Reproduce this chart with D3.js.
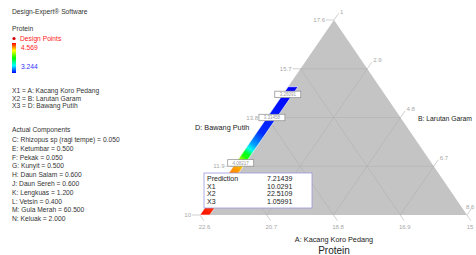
<!DOCTYPE html>
<html>
<head>
<meta charset="utf-8">
<script src="https://cdn.jsdelivr.net/npm/d3@7"></script>
<style>
body { margin: 0; background: #fff; }
svg { display: block; font-family: "Liberation Sans", Arial, sans-serif; }
</style>
</head>
<body>
<svg id="chart" width="476" height="255"></svg>
<script>
// ternary plot, mixture total A + B + D = 33.6
var total = 33.6;

var leftTicks = [10, 11.9, 13.8, 15.7, 17.6];      // A on the left edge
var leftTickLabels = ["10", "11.9", "13.8", "15.7", "17.6"];
var bottomTicks = [22.6, 20.7, 18.8, 16.9, 15];    // B on the bottom edge
var bottomTickLabels = ["22.6", "20.7", "18.8", "16.9", "15"];
var rightTicks = [1, 2.9, 4.8, 6.7, 8.6];          // D on the right edge
var rightTickLabels = ["1", "2.9", "4.8", "6.7", "8.6"];

// protein along the feasible strip (A value -> response)
var stripA = [10.0, 10.3, 11.6, 11.95, 12.14, 12.34, 12.49, 12.65, 12.85, 13.3, 15.0];
var stripProtein = [4.569, 4.52, 4.42, 4.35, 4.2, 3.95, 3.85, 3.6, 3.45, 3.3, 3.244];
var stripD = [1.0, 1.28];

// flagged design points
var flagA = [14.7, 13.8, 12.03];
var flagD = [1.14, 1.14, 1.14];
var flagLabels = ["3.26091", "3.31458", "4.08217"];

var colorStops = [3.244, 3.575, 3.906, 4.238, 4.569];
var colorRange = ["#0000ff", "#00ffff", "#00ff00", "#ffff00", "#ff0000"];

var predictionNames = ["Prediction", "X1", "X2", "X3"];
var predictionValues = ["7.21439", "10.0291", "22.5109", "1.05991"];

var factorLines = ["X1 = A: Kacang Koro Pedang", "X2 = B: Larutan Garam", "X3 = D: Bawang Putih"];
var actualComponents = [
    "C: Rhizopus sp (ragi tempe) = 0.050",
    "E: Ketumbar = 0.500",
    "F: Pekak = 0.050",
    "G: Kunyit = 0.500",
    "H: Daun Salam = 0.600",
    "J: Daun Sereh = 0.600",
    "K: Lengkuas = 1.200",
    "L: Vetsin = 0.400",
    "M: Gula Merah = 60.500",
    "N: Keluak = 2.000"
];

var svg = d3.select("#chart");

var aScale = d3.scaleLinear().domain([10, 17.6]).range([0, 1]);
var dScale = d3.scaleLinear().domain([1, 8.6]).range([0, 1]);
var apex = [334, 20], vLeft = [200, 215], vRight = [467, 215];

function proj(A, D) {
    var a = aScale(A), d = dScale(D), b = 1 - a - d;
    return [a * apex[0] + b * vLeft[0] + d * vRight[0],
            a * apex[1] + b * vLeft[1] + d * vRight[1]];
}

var color = d3.scaleLinear().domain(colorStops).range(colorRange);

// ---- left side text block
var info = svg.append("g").style("font-size", "6.7px").attr("fill", "#333");
info.append("text").attr("x", 12).attr("y", 14).text("Design-Expert\u00ae Software");
info.append("text").attr("x", 12).attr("y", 31).text("Protein");
info.append("circle").attr("cx", 14).attr("cy", 38.5).attr("r", 1.6).attr("fill", "#d00000");
info.append("text").attr("x", 20).attr("y", 41).attr("fill", "#ff2020").text("Design Points");

var defs = svg.append("defs");
var barGrad = defs.append("linearGradient").attr("id", "bar")
    .attr("x1", 0).attr("y1", 1).attr("x2", 0).attr("y2", 0);
colorStops.forEach(function (v, i) {
    barGrad.append("stop").attr("offset", (v - colorStops[0]) / (colorStops[4] - colorStops[0]))
        .attr("stop-color", colorRange[i]);
});
info.append("rect").attr("x", 12).attr("y", 43).attr("width", 4).attr("height", 30).attr("fill", "url(#bar)");
info.append("text").attr("x", 21).attr("y", 50).attr("fill", "#ff2020").text(d3.format(".3f")(colorStops[4]));
info.append("text").attr("x", 21).attr("y", 69).attr("fill", "#3030ff").text(d3.format(".3f")(colorStops[0]));

info.selectAll("text.factor").data(factorLines).enter().append("text")
    .attr("class", "factor").attr("x", 12).attr("y", (d, i) => 93 + i * 7.5).text(d => d);
info.append("text").attr("x", 12).attr("y", 132).text("Actual Components");
info.selectAll("text.comp").data(actualComponents).enter().append("text")
    .attr("class", "comp").attr("x", 12).attr("y", (d, i) => 142 + i * 8.8).text(d => d);

// ---- triangle
var plot = svg.append("g");
plot.append("path")
    .attr("d", "M" + proj(17.6, 1) + "L" + proj(10, 1) + "L" + proj(10, 8.6) + "Z")
    .attr("fill", "#c4c4c4");

var gridColor = "#b3b3b3";
leftTicks.slice(1, 4).forEach(function (A) {
    plot.append("line").datum([proj(A, 1), proj(A, total - A - 15)])
        .attr("x1", d => d[0][0]).attr("y1", d => d[0][1]).attr("x2", d => d[1][0]).attr("y2", d => d[1][1])
        .attr("stroke", gridColor).attr("stroke-width", 0.7);
});
rightTicks.slice(1, 4).forEach(function (D) {
    plot.append("line").datum([proj(10, D), proj(total - 15 - D, D)])
        .attr("x1", d => d[0][0]).attr("y1", d => d[0][1]).attr("x2", d => d[1][0]).attr("y2", d => d[1][1])
        .attr("stroke", gridColor).attr("stroke-width", 0.7);
});
bottomTicks.slice(1, 4).forEach(function (B) {
    plot.append("line").datum([proj(10, total - 10 - B), proj(total - 1 - B, 1)])
        .attr("x1", d => d[0][0]).attr("y1", d => d[0][1]).attr("x2", d => d[1][0]).attr("y2", d => d[1][1])
        .attr("stroke", gridColor).attr("stroke-width", 0.7);
});

// ---- ticks and labels
var tickColor = "#bdbdbd", labelColor = "#a8a8a8";
var ticks = svg.append("g").style("font-size", "6px").attr("fill", labelColor);
var upDir = [(apex[0] - vLeft[0]), (apex[1] - vLeft[1])];
var upLen = Math.hypot(upDir[0], upDir[1]);
upDir = [upDir[0] / upLen, upDir[1] / upLen];
var downDir = [(vRight[0] - apex[0]), (vRight[1] - apex[1])];
var downLen = Math.hypot(downDir[0], downDir[1]);
downDir = [downDir[0] / downLen, downDir[1] / downLen];

leftTicks.forEach(function (A, i) {
    var p = proj(A, 1);
    ticks.append("line").attr("x1", p[0]).attr("y1", p[1]).attr("x2", p[0] - 8).attr("y2", p[1])
        .attr("stroke", tickColor).attr("stroke-width", 0.7);
    ticks.append("text").attr("x", p[0] - 9).attr("y", p[1] + 2).attr("text-anchor", "end").text(leftTickLabels[i]);
});
rightTicks.forEach(function (D, i) {
    var p = proj(total - 15 - D, D);
    ticks.append("line").attr("x1", p[0]).attr("y1", p[1])
        .attr("x2", p[0] + upDir[0] * 8).attr("y2", p[1] + upDir[1] * 8)
        .attr("stroke", tickColor).attr("stroke-width", 0.7);
    ticks.append("text").attr("x", Math.min(p[0] + upDir[0] * 9 + 1, 466)).attr("y", p[1] + upDir[1] * 9 + 1)
        .text(rightTickLabels[i]);
});
bottomTicks.forEach(function (B, i) {
    var p = proj(10, total - 10 - B);
    ticks.append("line").attr("x1", p[0]).attr("y1", p[1])
        .attr("x2", p[0] + downDir[0] * 7).attr("y2", p[1] + downDir[1] * 7)
        .attr("stroke", tickColor).attr("stroke-width", 0.7);
    ticks.append("text").attr("x", Math.min(p[0] + downDir[0] * 8, 470)).attr("y", p[1] + downDir[1] * 8 + 7)
        .attr("text-anchor", "middle").text(bottomTickLabels[i]);
});

// ---- feasible strip coloured by protein
var p0 = proj(stripA[0], stripD[0]), p1 = proj(stripA[stripA.length - 1], stripD[0]);
var stripGrad = defs.append("linearGradient").attr("id", "strip").attr("gradientUnits", "userSpaceOnUse")
    .attr("x1", p0[0]).attr("y1", p0[1]).attr("x2", p1[0]).attr("y2", p1[1]);
var aMin = stripA[0], aMax = stripA[stripA.length - 1];
stripA.forEach(function (A, i) {
    stripGrad.append("stop").attr("offset", (A - aMin) / (aMax - aMin)).attr("stop-color", color(stripProtein[i]));
});
var stripPts = [proj(aMin, stripD[0]), proj(aMax, stripD[0]), proj(aMax, stripD[1]), proj(aMin, stripD[1])];
plot.append("path").attr("d", "M" + stripPts.join("L") + "Z")
    .attr("fill", "url(#strip)").attr("stroke", "#fff").attr("stroke-width", 0.6);

// ---- flags
var flags = svg.append("g");
flagA.forEach(function (A, i) {
    var p = proj(A, flagD[i]);
    var w = 26, h = 6.5;
    flags.append("rect").attr("x", p[0] - w / 2).attr("y", p[1] - h / 2).attr("width", w).attr("height", h)
        .attr("fill", "#fff").attr("stroke", "#8a8a8a").attr("stroke-width", 0.7);
    flags.append("text").attr("x", p[0]).attr("y", p[1] + 1.6).attr("text-anchor", "middle")
        .style("font-size", "4.5px").attr("fill", "#999").text(flagLabels[i]);
});

// ---- prediction box
var box = svg.append("g");
box.append("rect").attr("x", 204).attr("y", 173).attr("width", 108).attr("height", 35)
    .attr("fill", "#fff").attr("stroke", "#9a9ae0").attr("stroke-width", 0.8);
predictionNames.forEach(function (n, i) {
    box.append("text").attr("x", 207).attr("y", 181 + i * 7.5).style("font-size", "7px").attr("fill", "#222").text(n);
    box.append("text").attr("x", 267).attr("y", 181 + i * 7.5).style("font-size", "7px").attr("fill", "#222").text(predictionValues[i]);
});

// ---- vertex labels and title
var lab = svg.append("g").style("font-size", "7.3px").attr("fill", "#222");
lab.append("text").attr("x", 195).attr("y", 130).text("D: Bawang Putih");
lab.append("text").attr("x", 418).attr("y", 121).style("font-size", "6.8px").text("B: Larutan Garam");
lab.append("text").attr("x", apex[0]).attr("y", 242).attr("text-anchor", "middle").text("A: Kacang Koro Pedang");
svg.append("text").attr("x", apex[0]).attr("y", 254).attr("text-anchor", "middle")
    .style("font-size", "10px").attr("fill", "#222").text("Protein");
</script>
</body>
</html>
